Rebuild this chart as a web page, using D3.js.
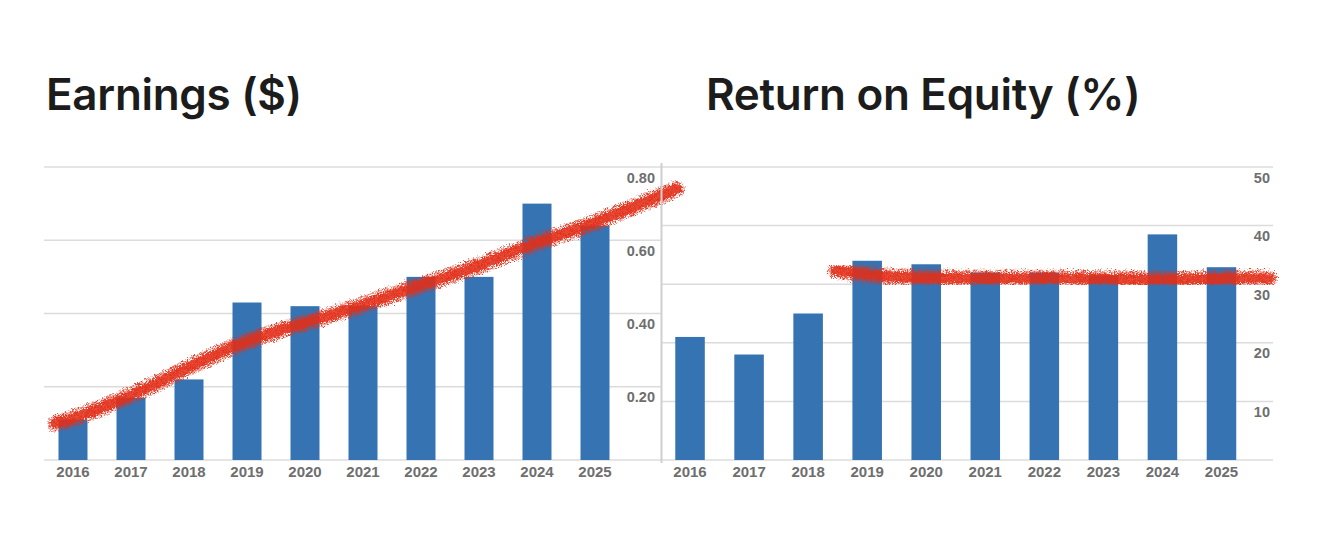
<!DOCTYPE html>
<html>
<head>
<meta charset="utf-8">
<script src="https://cdn.jsdelivr.net/npm/d3@7"></script>
<style>
  html, body { margin: 0; padding: 0; background: #fff; }
  svg { display: block; }
</style>
</head>
<body>
<svg id="chart" width="1320" height="534"></svg>
<script>
// ---- data ----
const years = [2016, 2017, 2018, 2019, 2020, 2021, 2022, 2023, 2024, 2025];
const earnings = [0.11, 0.17, 0.22, 0.43, 0.42, 0.42, 0.50, 0.50, 0.70, 0.64];
const roe = [21, 18, 25, 34, 33.4, 32, 32, 31.5, 38.5, 32.9];

const earningsTicks = [0.2, 0.4, 0.6, 0.8];
const earningsGrid = [0, 0.2, 0.4, 0.6, 0.8];
const roeTicks = [10, 20, 30, 40, 50];
const roeGrid = [0, 10, 20, 30, 40, 50];

// hand-drawn trend annotations (fractional year, value)
const earningsTrendYear = [2015.7, 2016, 2017, 2018, 2019, 2020, 2021, 2022, 2023, 2024, 2025, 2026.4];
const earningsTrendValue = [0.100, 0.112, 0.173, 0.255, 0.328, 0.374, 0.423, 0.478, 0.528, 0.596, 0.646, 0.740];
const roeTrendYear = [2018.47, 2019, 2020, 2021, 2022, 2023, 2024, 2025, 2025.8];
const roeTrendValue = [32.4, 31.5, 31.0, 31.0, 31.0, 31.0, 30.7, 31.0, 31.0];

const titles = ["Earnings ($)", "Return on Equity (%)"];

// ---- drawing ----
const svg = d3.select("#chart");
const defs = svg.append("defs");

// rough core stroke
const f = defs.append("filter").attr("id", "rough")
  .attr("x", "-10%").attr("y", "-50%").attr("width", "120%").attr("height", "200%");
f.append("feTurbulence").attr("type", "fractalNoise").attr("baseFrequency", 0.9)
  .attr("numOctaves", 2).attr("seed", 3).attr("result", "noise");
f.append("feDisplacementMap").attr("in", "SourceGraphic").attr("in2", "noise")
  .attr("scale", 7).attr("xChannelSelector", "R").attr("yChannelSelector", "G");

// speckled spray stroke
const s = defs.append("filter").attr("id", "spray")
  .attr("x", "-10%").attr("y", "-50%").attr("width", "120%").attr("height", "200%");
s.append("feTurbulence").attr("type", "fractalNoise").attr("baseFrequency", 1.3)
  .attr("numOctaves", 2).attr("seed", 7).attr("result", "noise");
s.append("feColorMatrix").attr("in", "noise").attr("type", "matrix")
  .attr("values", "0 0 0 0 0  0 0 0 0 0  0 0 0 0 0  4 0 0 0 -1.5").attr("result", "mask");
s.append("feComposite").attr("in", "SourceGraphic").attr("in2", "mask")
  .attr("operator", "in").attr("result", "sp");
s.append("feDisplacementMap").attr("in", "sp").attr("in2", "noise")
  .attr("scale", 8).attr("xChannelSelector", "G").attr("yChannelSelector", "R");

const BLUE = "#3673b3";
const GRID = "#dcdcdc";
const TEXT = "#6e6e6e";
const RED = "#e2301b";

function panel(cfg) {
  const g = svg.append("g");
  const x = d3.scaleBand().domain(years).range([cfg.bandLeft, cfg.bandRight])
    .paddingInner(0.5).paddingOuter(0.25);
  const y = d3.scaleLinear().domain(cfg.domain).range([460, 167]);
  const xc = d3.scaleLinear().domain([years[0], years[years.length - 1]])
    .range([x(years[0]) + x.bandwidth() / 2, x(years[years.length - 1]) + x.bandwidth() / 2]);

  // gridlines
  g.append("g").selectAll("line").data(cfg.grid).join("line")
    .attr("x1", cfg.gridLeft).attr("x2", cfg.gridRight)
    .attr("y1", d => y(d)).attr("y2", d => y(d))
    .attr("stroke", GRID).attr("stroke-width", 1.5);

  // bars
  g.append("g").selectAll("rect").data(years).join("rect")
    .attr("x", d => x(d)).attr("width", x.bandwidth())
    .attr("y", (d, i) => y(cfg.values[i]))
    .attr("height", (d, i) => y(0) - y(cfg.values[i]))
    .attr("fill", BLUE);

  // value axis labels (inside, below gridline)
  const ya = d3.axisRight(y).tickValues(cfg.ticks).tickFormat(cfg.fmt).tickSize(0);
  const yg = g.append("g").attr("transform", `translate(${cfg.labelRight},0)`).call(ya);
  yg.select(".domain").remove();
  yg.selectAll("text")
    .attr("x", 0).attr("dy", null).attr("y", 15)
    .attr("text-anchor", "end")
    .attr("fill", TEXT)
    .style("font-family", "'Liberation Sans Narrow', 'Arial Narrow', sans-serif")
    .style("font-weight", "bold").style("font-size", "14.5px");

  // year axis
  const xa = d3.axisBottom(x).tickSize(0);
  const xg = g.append("g").attr("transform", "translate(0,460)").call(xa);
  xg.select(".domain").remove();
  xg.selectAll("text")
    .attr("dy", null).attr("y", 17)
    .attr("fill", TEXT)
    .style("font-family", "'Liberation Sans Narrow', 'Arial Narrow', sans-serif")
    .style("font-weight", "bold").style("font-size", "15px");

  // hand-drawn trend
  const pts = cfg.trendYear.map((yr, i) => [xc(yr), y(cfg.trendValue[i])]);
  const line = d3.line().curve(d3.curveBasis);
  g.append("path").attr("d", line(pts)).attr("fill", "none")
    .attr("stroke", RED).attr("stroke-width", 17).attr("stroke-opacity", 0.9)
    .attr("stroke-linecap", "round").attr("filter", "url(#spray)");
  g.append("path").attr("d", line(pts)).attr("fill", "none")
    .attr("stroke", RED).attr("stroke-width", 10).attr("stroke-opacity", 0.85)
    .attr("stroke-linecap", "round").attr("filter", "url(#rough)");

  // title
  svg.append("text").attr("x", cfg.titleX).attr("y", 110)
    .text(cfg.title)
    .attr("fill", "#1c1c1c")
    .style("font-family", "Inter, 'Noto Sans', sans-serif")
    .style("font-weight", 600).style("font-size", "44px")
    .style("letter-spacing", "-0.3px");
}

panel({
  title: titles[0], titleX: 46,
  bandLeft: 44, bandRight: 624, gridLeft: 44, gridRight: 661, labelRight: 655,
  domain: [0, 0.8], grid: earningsGrid, ticks: earningsTicks, fmt: d3.format(".2f"),
  values: earnings, trendYear: earningsTrendYear, trendValue: earningsTrendValue
});

panel({
  title: titles[1], titleX: 706,
  bandLeft: 660.5, bandRight: 1251, gridLeft: 661, gridRight: 1273, labelRight: 1270,
  domain: [0, 50], grid: roeGrid, ticks: roeTicks, fmt: d3.format("d"),
  values: roe, trendYear: roeTrendYear, trendValue: roeTrendValue
});

// separator between panels
svg.append("line").attr("x1", 661.5).attr("x2", 661.5).attr("y1", 163).attr("y2", 463)
  .attr("stroke", "#cfcfcf").attr("stroke-width", 2);
</script>
</body>
</html>
